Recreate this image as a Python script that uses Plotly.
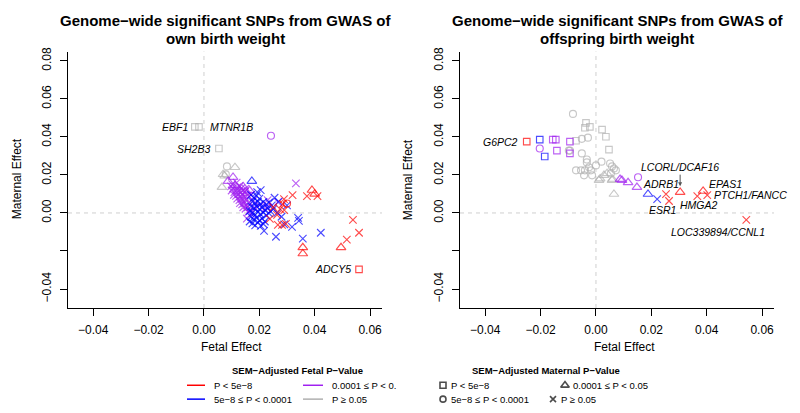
import plotly.graph_objects as go

W, H = 800, 413
FONT = "Liberation Sans, Arial, Helvetica, sans-serif"

# ---------------- data: (fetal effect, maternal effect, maternal P category) ----------------
# maternal category codes: s = P<5e-8, c = 5e-8<=P<1e-4, t = 1e-4<=P<0.05, x = P>=0.05
own_grey = [(-0.0033, 0.0453, "s"), (-0.0018, 0.0453, "s"), (0.0054, 0.0339, "s"),
            (0.0083, 0.0245, "c"), (0.0112, 0.0240, "t"), (0.0069, 0.0203, "t"),
            (0.0079, 0.0203, "c"), (0.0065, 0.0135, "t"), (0.0075, 0.0195, "t")]

own_purple = [(0.0242, 0.0406, "c"), (0.0105, 0.0188, "t"), (0.0087, 0.0167, "t"), (0.0332, 0.0156, "x"),
              (0.0098, 0.0140, "x"), (0.0105, 0.0130, "x"), (0.0112, 0.0145, "t"), (0.0120, 0.0135, "x"),
              (0.0128, 0.0142, "x"), (0.0135, 0.0130, "x"), (0.0142, 0.0138, "t"), (0.0150, 0.0128, "x"),
              (0.0100, 0.0118, "x"), (0.0110, 0.0110, "x"), (0.0118, 0.0120, "x"), (0.0126, 0.0115, "x"),
              (0.0134, 0.0108, "x"), (0.0140, 0.0118, "x"), (0.0148, 0.0112, "x"), (0.0156, 0.0105, "t"),
              (0.0108, 0.0095, "x"), (0.0116, 0.0090, "x"), (0.0124, 0.0098, "x"), (0.0132, 0.0088, "x"),
              (0.0140, 0.0095, "x"), (0.0148, 0.0085, "x"), (0.0158, 0.0092, "x"), (0.0120, 0.0075, "x"),
              (0.0128, 0.0068, "x"), (0.0136, 0.0074, "x"), (0.0144, 0.0062, "x"), (0.0152, 0.0070, "x"),
              (0.0130, 0.0052, "x"), (0.0138, 0.0045, "x"), (0.0146, 0.0050, "x"), (0.0154, 0.0040, "x"),
              (0.0162, 0.0055, "x"), (0.0142, 0.0030, "x"), (0.0150, 0.0022, "x"), (0.0158, 0.0030, "x"),
              (0.0166, 0.0015, "x"), (0.0160, 0.0005, "x"), (0.0170, -0.0005, "x"), (0.0155, -0.0030, "x"),
              (0.0165, 0.0118, "t"), (0.0118, 0.0160, "x"), (0.0102, 0.0152, "x"), (0.0170, 0.0095, "x"),
              (0.0178, 0.0065, "x"), (0.0230, 0.0068, "x"), (0.0267, 0.0057, "x"), (0.0200, 0.0040, "x"),
              (0.0185, 0.0025, "x"), (0.0225, 0.0030, "x")]

own_blue = [(0.0173, 0.0167, "t"), (0.0192, 0.0110, "x"), (0.0205, 0.0120, "x"),
            (0.0170, 0.0095, "x"), (0.0180, 0.0080, "x"), (0.0190, 0.0090, "x"), (0.0200, 0.0075, "x"),
            (0.0175, 0.0060, "x"), (0.0185, 0.0050, "x"), (0.0195, 0.0060, "x"), (0.0205, 0.0048, "x"),
            (0.0215, 0.0058, "x"), (0.0225, 0.0045, "x"), (0.0235, 0.0055, "x"), (0.0245, 0.0040, "x"),
            (0.0170, 0.0035, "x"), (0.0180, 0.0025, "x"), (0.0190, 0.0035, "x"), (0.0200, 0.0020, "x"),
            (0.0210, 0.0030, "x"), (0.0220, 0.0015, "x"), (0.0230, 0.0025, "x"), (0.0240, 0.0010, "x"),
            (0.0250, 0.0020, "x"), (0.0165, 0.0010, "x"), (0.0175, 0.0000, "x"), (0.0185, -0.0010, "x"),
            (0.0195, 0.0005, "x"), (0.0205, -0.0008, "x"), (0.0215, 0.0002, "x"), (0.0225, -0.0012, "x"),
            (0.0235, -0.0002, "x"), (0.0170, -0.0020, "x"), (0.0180, -0.0035, "x"), (0.0190, -0.0025, "x"),
            (0.0200, -0.0040, "x"), (0.0210, -0.0030, "x"), (0.0220, -0.0045, "x"), (0.0175, -0.0055, "x"),
            (0.0185, -0.0065, "x"), (0.0195, -0.0050, "x"), (0.0205, -0.0068, "x"), (0.0215, -0.0058, "x"),
            (0.0165, -0.0045, "x"), (0.0217, -0.0094, "x"), (0.0260, -0.0125, "x"), (0.0340, -0.0026, "x"),
            (0.0343, -0.0042, "x"), (0.0318, -0.0073, "x"), (0.0357, -0.0135, "x"), (0.0422, -0.0104, "x"),
            (0.0290, -0.0060, "x"), (0.0300, 0.0040, "x"), (0.0270, 0.0060, "x"), (0.0255, 0.0080, "x"),
            (0.0280, -0.0020, "x"), (0.0265, 0.0000, "x")]

own_red = [(0.0560, -0.0297, "s"), (0.0390, 0.0120, "t"), (0.0400, 0.0100, "t"), (0.0372, 0.0089, "x"),
           (0.0410, 0.0089, "x"), (0.0320, 0.0094, "x"), (0.0289, 0.0073, "x"), (0.0285, 0.0047, "x"),
           (0.0300, 0.0050, "c"), (0.0538, -0.0036, "x"), (0.0560, -0.0104, "x"), (0.0516, -0.0140, "x"),
           (0.0495, -0.0182, "t"), (0.0357, -0.0182, "t"), (0.0357, -0.0214, "t"), (0.0267, -0.0063, "x"),
           (0.0282, -0.0063, "x"), (0.0296, -0.0057, "x"), (0.0238, -0.0031, "x"), (0.0264, -0.0010, "x"),
           (0.0275, 0.0020, "x"), (0.0250, 0.0030, "x"), (0.0290, 0.0015, "x")]

off_grey = [(-0.0083, 0.0521, "c"), (-0.0094, 0.0328, "c"), (-0.0051, 0.0390, "c"), (-0.0029, 0.0396, "c"),
            (-0.0051, 0.0313, "c"), (-0.0033, 0.0281, "c"), (-0.0033, 0.0266, "c"), (0.0000, 0.0250, "c"),
            (-0.0072, 0.0224, "c"), (-0.0054, 0.0224, "c"), (-0.0040, 0.0224, "c"), (-0.0018, 0.0224, "c"),
            (-0.0043, 0.0198, "c"), (-0.0014, 0.0198, "c"), (-0.0025, 0.0240, "c"), (0.0051, 0.0260, "c"),
            (0.0058, 0.0245, "c"), (0.0065, 0.0234, "c"), (0.0072, 0.0224, "c"), (0.0054, 0.0208, "c"),
            (0.0020, 0.0270, "c"), (-0.0098, 0.0328, "c"),
            (-0.0036, 0.0474, "s"), (-0.0040, 0.0448, "s"), (-0.0022, 0.0453, "s"), (0.0022, 0.0438, "s"),
            (0.0036, 0.0401, "s"), (0.0047, 0.0333, "s"), (-0.0072, 0.0380, "s"),
            (0.0011, 0.0172, "t"), (0.0029, 0.0198, "t"), (0.0040, 0.0208, "t"), (0.0058, 0.0172, "t"),
            (0.0065, 0.0099, "t"), (0.0015, 0.0180, "t"), (0.0060, 0.0178, "t")]

off_purple = [(-0.0203, 0.0339, "c"), (-0.0156, 0.0386, "s"), (-0.0145, 0.0386, "s"), (-0.0141, 0.0328, "s"),
              (-0.0094, 0.0375, "s"), (-0.0094, 0.0313, "s"), (0.0087, 0.0177, "t"), (0.0094, 0.0172, "t"),
              (0.0116, 0.0160, "t"), (0.0148, 0.0135, "t"), (0.0152, 0.0188, "c")]

off_blue = [(-0.0203, 0.0386, "s"), (-0.0185, 0.0297, "s"), (0.0188, 0.0099, "t"), (0.0221, 0.0073, "x")]

off_red = [(-0.0250, 0.0375, "s"), (0.0253, 0.0099, "x"), (0.0264, 0.0063, "x"), (0.0304, 0.0109, "t"),
           (0.0366, 0.0089, "x"), (0.0387, 0.0115, "t"), (0.0402, 0.0094, "x"), (0.0543, -0.0036, "x")]

# gene labels: (text, fetal, maternal, anchor)
own_labels = [("EBF1", -0.0051, 0.0453, "right"), ("MTNR1B", 0.0014, 0.0453, "left"),
              ("SH2B3", 0.0029, 0.0339, "right"), ("ADCY5", 0.0538, -0.0297, "right")]
off_labels = [("G6PC2", -0.0275, 0.0375, "right"), ("ADRB1", 0.0163, 0.0151, "left"),
              ("EPAS1", 0.0402, 0.0151, "left"), ("PTCH1/FANCC", 0.0420, 0.0094, "left"),
              ("HMGA2", 0.0297, 0.0042, "left"), ("ESR1", 0.0185, 0.0016, "left"),
              ("LOC339894/CCNL1", 0.0264, -0.0099, "left")]
arrow_label = ("LCORL/DCAF16", 0.0304, 0.0141)

x_ticks = [-0.04, -0.02, 0.00, 0.02, 0.04, 0.06]
x_ticktext = ["\u22120.04", "\u22120.02", "0.00", "0.02", "0.04", "0.06"]
y_ticks = [-0.04, -0.02, 0.00, 0.02, 0.04, 0.06, 0.08]
y_ticktext = ["\u22120.04", "", "0.00", "0.02", "0.04", "0.06", "0.08"]

fetal_legend = ["P < 5e\u22128", "5e\u22128 \u2264 P < 0.0001", "0.0001 \u2264 P < 0.", "P \u2265 0.05"]
maternal_legend = ["P < 5e\u22128", "5e\u22128 \u2264 P < 0.0001", "0.0001 \u2264 P < 0.05", "P \u2265 0.05"]

# ---------------- styles ----------------
COLORS = {"red": "#FF0000", "blue": "#0000FF", "purple": "#A020F0", "grey": "#B0B0B0"}
SYMBOLS = {"s": "square-open", "c": "circle-open", "t": "triangle-up-open", "x": "x-thin-open"}
SIZES = {"s": 6.5, "c": 7, "t": 8.5, "x": 7.5}


def px(x):
    return x / W


def py(y):
    return 1 - y / H


fig = go.Figure()

panels = [("x", "y", [("grey", own_grey), ("purple", own_purple), ("blue", own_blue), ("red", own_red)]),
          ("x2", "y2", [("grey", off_grey), ("purple", off_purple), ("blue", off_blue), ("red", off_red)])]

for xa, ya, groups in panels:
    for col, pts in groups:
        fig.add_trace(go.Scatter(
            x=[p[0] for p in pts], y=[p[1] for p in pts], xaxis=xa, yaxis=ya, mode="markers",
            marker=dict(symbol=[SYMBOLS[p[2]] for p in pts], size=[SIZES[p[2]] for p in pts],
                        color=COLORS[col], line=dict(width=1.15, color=COLORS[col])),
            showlegend=False, hoverinfo="skip"))

xr = [-0.0491, 0.0643]
yr = [-0.0500, 0.0849]
ydom = [py(307), py(48)]
axis_common = dict(showline=True, linecolor="black", linewidth=1, ticks="outside", ticklen=7,
                   tickcolor="black", tickwidth=1, showgrid=False, zeroline=False,
                   tickfont=dict(family=FONT, size=12, color="black"), fixedrange=True)

fig.update_layout(
    xaxis=dict(domain=[px(68), px(382)], range=xr, tickvals=x_ticks, ticktext=x_ticktext, anchor="y",
               ticklabelstandoff=4, **axis_common),
    yaxis=dict(domain=ydom, range=yr, tickvals=y_ticks, ticktext=y_ticktext, tickangle=-90, anchor="x",
               ticklabelstandoff=4, **axis_common),
    xaxis2=dict(domain=[px(460), px(774)], range=xr, tickvals=x_ticks, ticktext=x_ticktext, anchor="y2",
                ticklabelstandoff=4, **axis_common),
    yaxis2=dict(domain=ydom, range=yr, tickvals=y_ticks, ticktext=y_ticktext, tickangle=-90, anchor="x2",
                ticklabelstandoff=4, **axis_common),
    xaxis3=dict(domain=[0, 1], range=[0, W], visible=False, anchor="y3", fixedrange=True),
    yaxis3=dict(domain=[0, 1], range=[H, 0], visible=False, anchor="x3", fixedrange=True),
)

shapes = []
for xa, ya in [("x", "y"), ("x2", "y2")]:
    shapes.append(dict(type="line", xref=xa, yref=ya + " domain", x0=0, x1=0, y0=0, y1=1, layer="below",
                       line=dict(color="#CFCFCF", width=1, dash="4px,4px")))
    shapes.append(dict(type="line", xref=xa + " domain", yref=ya, x0=0, x1=1, y0=0, y1=0, layer="below",
                       line=dict(color="#CFCFCF", width=1, dash="4px,4px")))

annotations = []


def ann(text, x, y, size, xanchor="center", angle=0, color="black"):
    annotations.append(dict(text=text, x=px(x), y=py(y), xref="paper", yref="paper", showarrow=False,
                            xanchor=xanchor, yanchor="middle", textangle=angle,
                            font=dict(family=FONT, size=size, color=color)))


# titles
ann("<b>Genome\u2212wide significant SNPs from GWAS of</b>", 225, 17, 15)
ann("<b>own birth weight</b>", 225, 35, 15)
ann("<b>Genome\u2212wide significant SNPs from GWAS of</b>", 617, 17, 15)
ann("<b>offspring birth weight</b>", 617, 35, 15)

# axis titles
ann("Fetal Effect", 232, 346, 12)
ann("Fetal Effect", 624, 346, 12)
ann("Maternal Effect", 17, 177, 12, angle=-90)
ann("Maternal Effect", 408, 178, 12, angle=-90)

# gene labels
for labels, xa, ya in [(own_labels, "x", "y"), (off_labels, "x2", "y2")]:
    for text, gx, gy, anchor in labels:
        annotations.append(dict(text="<i>" + text + "</i>", x=gx, y=gy, xref=xa, yref=ya, showarrow=False,
                                xanchor=anchor, yanchor="middle",
                                font=dict(family=FONT, size=10.5, color="black")))
annotations.append(dict(text="<i>" + arrow_label[0] + "</i>", x=arrow_label[1], y=arrow_label[2],
                        xref="x2", yref="y2", showarrow=True, ax=0, ay=-19, arrowhead=2, arrowsize=0.8,
                        arrowwidth=1, arrowcolor="#555555", standoff=0,
                        font=dict(family=FONT, size=10.5, color="black")))

# legends
LEG = 9.5
ann("<b>SEM\u2212Adjusted Fetal P\u2212Value</b>", 297, 370, LEG)
ann("<b>SEM\u2212Adjusted Maternal P\u2212Value</b>", 546, 370, LEG)

leg_lines = [(187, 205, 385, "red", 0), (187, 205, 399, "blue", 1), (303, 323, 385, "purple", 2), (303, 323, 399, "grey", 3)]
for x0, x1, yy, col, i in leg_lines:
    shapes.append(dict(type="line", xref="paper", yref="paper", x0=px(x0), x1=px(x1), y0=py(yy), y1=py(yy),
                       line=dict(color=COLORS[col], width=1.5)))
    ann(fetal_legend[i], x1 + 7, yy, LEG, xanchor="left")

leg_syms = [(443, 385, "s", 0), (443, 399, "c", 1), (565, 385, "t", 2), (553, 399, "x", 3)]
fig.add_trace(go.Scatter(
    x=[s[0] for s in leg_syms], y=[s[1] for s in leg_syms], xaxis="x3", yaxis="y3", mode="markers",
    marker=dict(symbol=[SYMBOLS[s[2]] for s in leg_syms], size=[6, 6, 7.5, 6], color="black",
                line=dict(width=1.6, color="black")),
    showlegend=False, hoverinfo="skip"))
for sx, sy, code, i in leg_syms:
    ann(maternal_legend[i], sx + 6, sy, LEG, xanchor="left")

fig.update_layout(width=W, height=H, margin=dict(l=0, r=0, t=0, b=0), paper_bgcolor="white",
                  plot_bgcolor="rgba(0,0,0,0)", shapes=shapes, annotations=annotations, showlegend=False)

fig.write_html("out.html", config={"displayModeBar": False},
               post_script="document.body.style.margin='0';document.body.style.padding='0';")
